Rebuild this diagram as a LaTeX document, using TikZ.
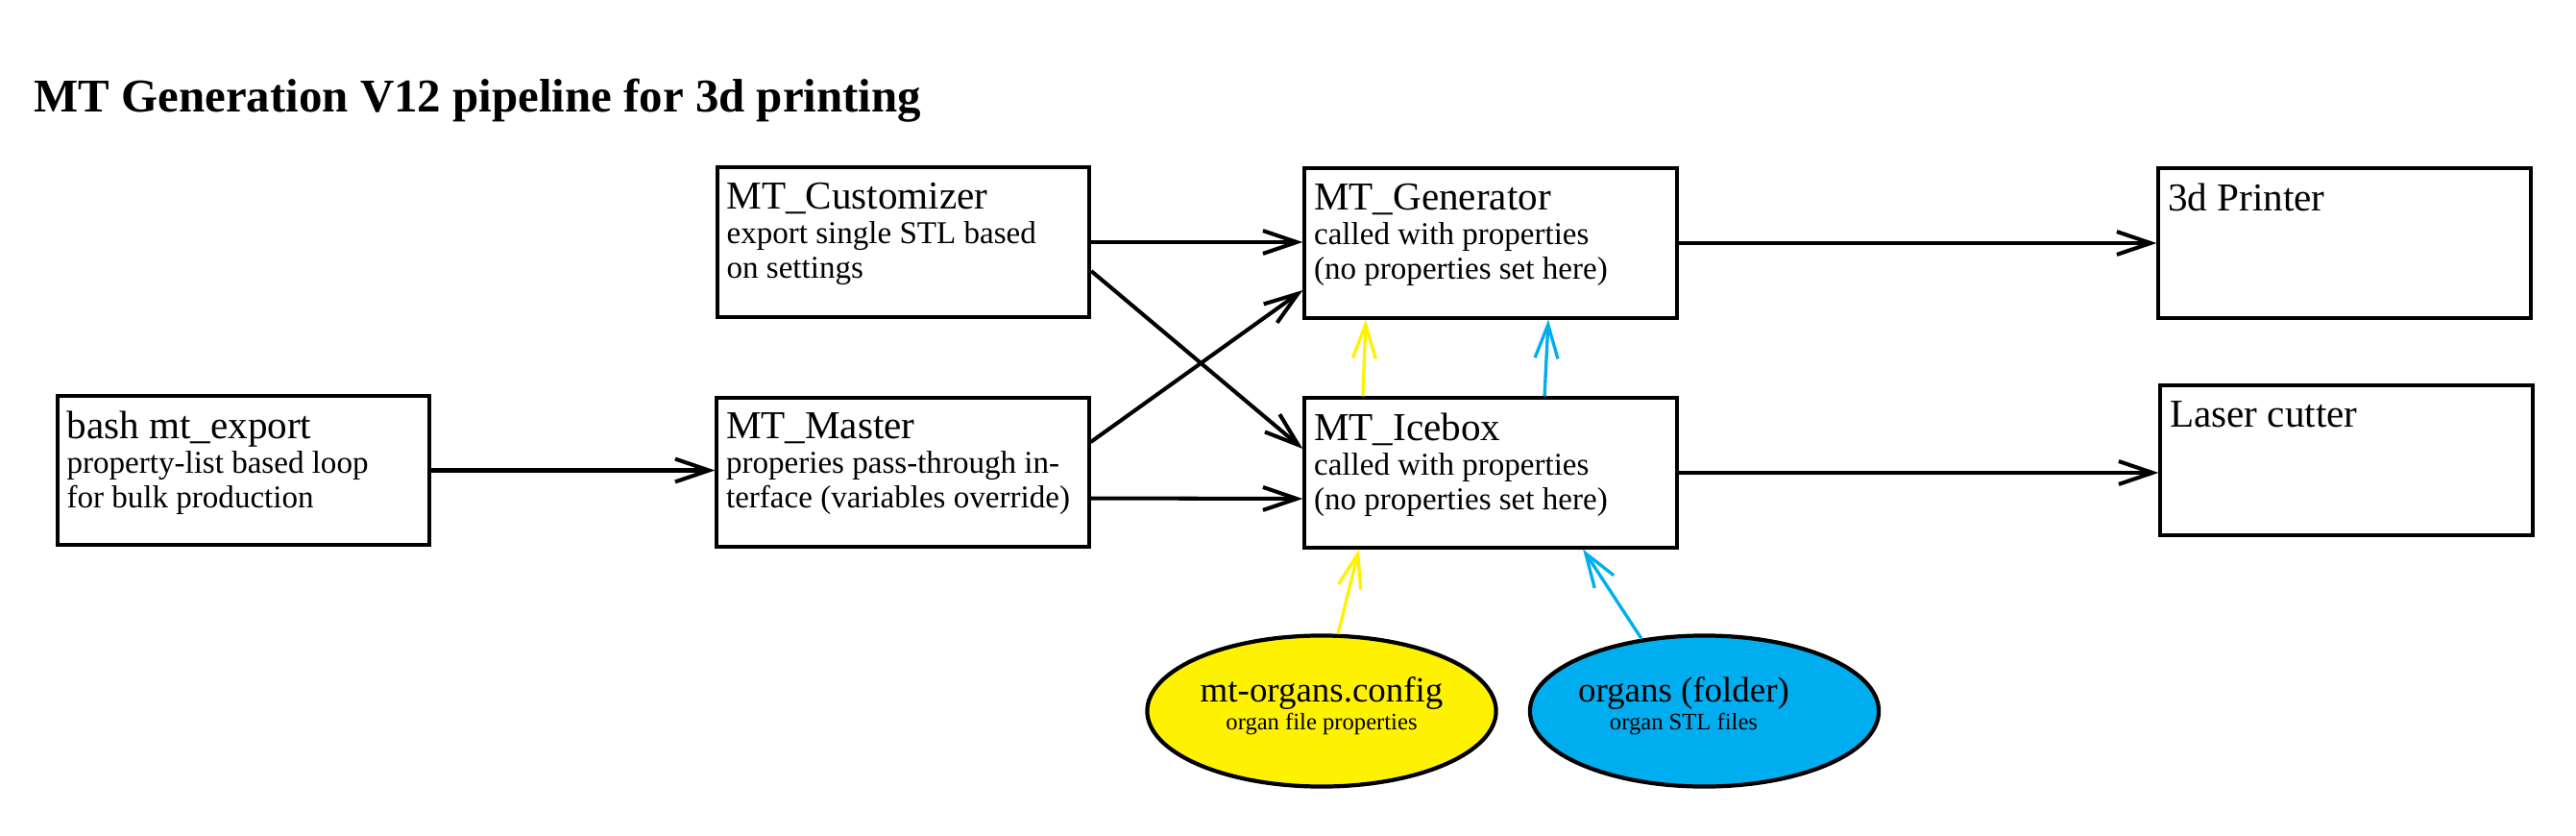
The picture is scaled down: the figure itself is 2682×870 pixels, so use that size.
\documentclass[tikz,border=0pt]{standalone}
\usepackage{fontspec}
\setmainfont{Liberation Serif}
\usetikzlibrary{arrows.meta,shapes.geometric}
\definecolor{cfgyellow}{HTML}{FFF200}
\definecolor{stlblue}{HTML}{00AEEF}
\newcommand{\boxtitle}[1]{{\fontsize{11.7}{10.24}\selectfont #1}}
\begin{document}
\begin{tikzpicture}[x=0.01cm,y=-0.01cm,
  box/.style={draw=black, line width=1.15pt, minimum width=3.87cm, minimum height=1.55cm, inner sep=0pt},
  boxtext/.style={anchor=north west, inner sep=0pt, align=left, font=\fontsize{9.4}{10.24}\selectfont},
  oval/.style={ellipse, draw=black, line width=1.2pt, minimum width=3.63cm, minimum height=1.57cm, inner sep=0pt},
  ovaltext/.style={align=center, inner sep=0pt, font=\fontsize{10.5}{8.25}\selectfont},
  flow/.style={line width=1.15pt, -{Straight Barb[length=10pt,width=6.8pt]}},
  feed/.style={draw=#1, line width=0.95pt, -{Straight Barb[length=10pt,width=6.8pt]}}]
\useasboundingbox (0,0) rectangle (2682,870);

\node[anchor=base west, inner sep=0pt, font=\bfseries\fontsize{13.9}{16}\selectfont] (title) at (35,117) {MT Generation V12 pipeline for 3d printing};

\node[box] (exp) at (253.5,489.5) {};
\node[box] (cust) at (940.5,252) {};
\node[box] (master) at (940,491.5) {};
\node[box] (gen) at (1552,253) {};
\node[box] (ice) at (1552,492) {};
\node[box] (printer) at (2441,253) {};
\node[box] (laser) at (2443,479) {};

\node[boxtext] (exp-t) at ([xshift=0.11cm,yshift=-0.17cm]exp.north west) {\boxtitle{bash mt\_export}\\property-list based loop\\for bulk production};
\node[boxtext] (cust-t) at ([xshift=0.11cm,yshift=-0.17cm]cust.north west) {\boxtitle{MT\_Customizer}\\export single STL based\\on settings};
\node[boxtext] (master-t) at ([xshift=0.11cm,yshift=-0.17cm]master.north west) {\boxtitle{MT\_Master}\\properies pass-through in-\\terface (variables override)};
\node[boxtext] (gen-t) at ([xshift=0.11cm,yshift=-0.17cm]gen.north west) {\boxtitle{MT\_Generator}\\called with properties\\(no properties set here)};
\node[boxtext] (ice-t) at ([xshift=0.11cm,yshift=-0.17cm]ice.north west) {\boxtitle{MT\_Icebox}\\called with properties\\(no properties set here)};
\node[boxtext] (printer-t) at ([xshift=0.11cm,yshift=-0.17cm]printer.north west) {\boxtitle{3d Printer}};
\node[boxtext] (laser-t) at ([xshift=0.11cm,yshift=-0.17cm]laser.north west) {\boxtitle{Laser cutter}};

\node[oval, fill=cfgyellow] (yel) at (1376,740) {};
\node[oval, fill=stlblue] (blu) at (1774.5,740) {};
\node[ovaltext] (yel-t) at (1376,735) {mt-organs.config\\{\fontsize{7}{8.25}\selectfont organ file properties}};
\node[ovaltext] (blu-t) at (1753,735) {organs (folder)\\{\fontsize{7}{8.25}\selectfont organ STL files}};

\draw[flow] (exp.east) -- (exp.east -| master.west);
\draw[flow] (cust.east) -- (cust.east -| gen.west);
\draw[flow] ([yshift=-0.30cm]cust.east) -- ([yshift=0.25cm]ice.west);
\draw[flow] ([yshift=0.315cm]master.east) -- ([yshift=-0.49cm]gen.west);
\draw[flow] ([yshift=-0.27cm]master.east) -- ([yshift=-0.27cm]ice.west);
\draw[flow] (gen.east) -- (printer.west);
\draw[flow] (ice.east) -- (ice.east -| laser.west);

\draw[feed=cfgyellow] ([xshift=-1.33cm]ice.north) -- ([xshift=-1.30cm]gen.south);
\draw[feed=stlblue] ([xshift=0.56cm]ice.north) -- ([xshift=0.60cm]gen.south);
\draw[feed=cfgyellow] (yel.78) -- ([xshift=-1.37cm]ice.south);
\draw[feed=stlblue] (blu.131) -- ([xshift=0.96cm]ice.south);
\end{tikzpicture}
\end{document}
